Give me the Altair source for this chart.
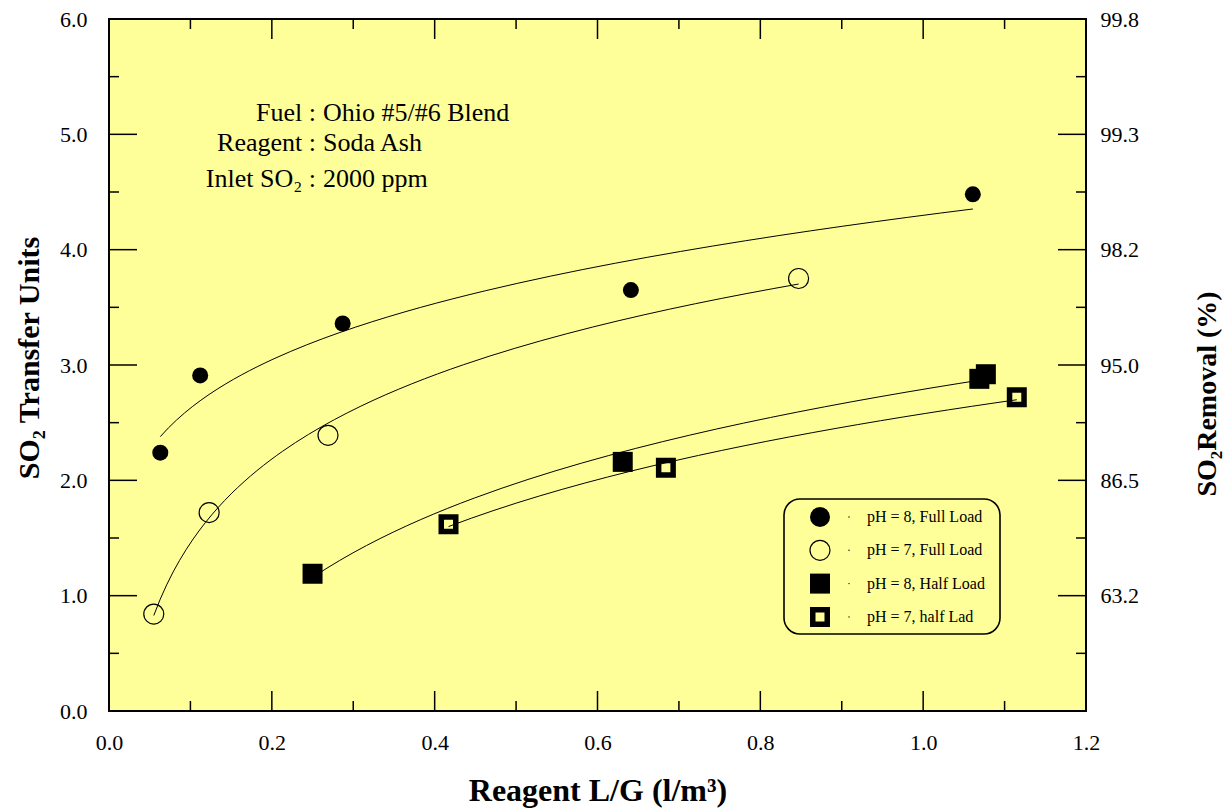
import altair as alt
import pandas as pd

# ---------------- data ----------------
series_names = ["pH = 8, Full Load", "pH = 7, Full Load", "pH = 8, Half Load", "pH = 7, half Lad"]

ph8_full_x = [0.063, 0.112, 0.287, 0.641, 1.061]
ph8_full_y = [2.24, 2.91, 3.36, 3.65, 4.48]
ph7_full_x = [0.055, 0.123, 0.269, 0.847]
ph7_full_y = [0.84, 1.72, 2.39, 3.75]
ph8_half_x = [0.250, 0.631, 1.069, 1.077]
ph8_half_y = [1.19, 2.16, 2.88, 2.92]
ph7_half_x = [0.417, 0.684, 1.115]
ph7_half_y = [1.62, 2.11, 2.72]

fit_methods = ["pow", "log", "log", "log"]

y_major = [0, 1, 2, 3, 4, 5, 6]
y_minor = [0.5, 1.5, 2.5, 3.5, 4.5, 5.5]
x_major = [0.0, 0.2, 0.4, 0.6, 0.8, 1.0, 1.2]
x_minor = [0.1, 0.3, 0.5, 0.7, 0.9, 1.1]
right_values = [1, 2, 3, 4, 5, 6]
right_labels = ["63.2", "86.5", "95.0", "98.2", "99.3", "99.8"]

note_keys = ["Fuel :", "Reagent :", "Inlet SO\u2082 :"]
note_vals = ["Ohio #5/#6 Blend", "Soda Ash", "2000 ppm"]

x_title = "Reagent L/G (l/m\u00b3)"
y_title = "SO\u2082 Transfer Units"
y2_title = "SO\u2082Removal (%)"

# ---------------- layout / style ----------------
W, H = 977, 692
FONT = "Liberation Serif"
BG = "#FFFF99"

styles = {
    "pH = 8, Full Load": dict(shape="circle", filled=True, size=256, strokeWidth=0),
    "pH = 7, Full Load": dict(shape="circle", filled=False, size=400, strokeWidth=1.2),
    "pH = 8, Half Load": dict(shape="square", filled=True, size=400, strokeWidth=0),
    "pH = 7, half Lad": dict(shape="square", filled=False, size=210, strokeWidth=5.5),
}
legend_styles = {
    "pH = 8, Full Load": dict(shape="circle", filled=True, size=400, strokeWidth=0),
    "pH = 7, Full Load": dict(shape="circle", filled=False, size=400, strokeWidth=1.2),
    "pH = 8, Half Load": dict(shape="square", filled=True, size=400, strokeWidth=0),
    "pH = 7, half Lad": dict(shape="square", filled=False, size=210, strokeWidth=5.5),
}

xs = alt.Scale(domain=[0, 1.2], nice=False, zero=True)
ys = alt.Scale(domain=[0, 6], nice=False, zero=True)

xs_list = [ph8_full_x, ph7_full_x, ph8_half_x, ph7_half_x]
ys_list = [ph8_full_y, ph7_full_y, ph8_half_y, ph7_half_y]
rows = []
for name, xv, yv in zip(series_names, xs_list, ys_list):
    for a, b in zip(xv, yv):
        rows.append({"x": a, "y": b, "series": name})
df = pd.DataFrame(rows)

layers = []

# fitted curves (computed by Vega-Lite regression)
for name, m in zip(series_names, fit_methods):
    layers.append(
        alt.Chart(df)
        .transform_filter(alt.datum.series == name)
        .transform_regression("x", "y", method=m)
        .mark_line(color="black", strokeWidth=1)
        .encode(x=alt.X("x:Q", scale=xs, axis=None), y=alt.Y("y:Q", scale=ys, axis=None))
    )

# points
for name in series_names:
    st = styles[name]
    layers.append(
        alt.Chart(df)
        .transform_filter(alt.datum.series == name)
        .mark_point(shape=st["shape"], filled=st["filled"], size=st["size"],
                    strokeWidth=st["strokeWidth"], color="black", opacity=1)
        .encode(x=alt.X("x:Q", scale=xs, axis=None), y=alt.Y("y:Q", scale=ys, axis=None))
    )

axis_common = dict(title=None, ticks=False, tickSize=0, domain=False, grid=False,
                   labelFont=FONT, labelFontSize=22, labelColor="black", labelFlush=False,
                   labelOverlap=False)

# left major ticks (carry the left axis labels)
layers.append(
    alt.Chart(pd.DataFrame({"v": y_major})).mark_rule(color="black", strokeWidth=1.5)
    .encode(
        y=alt.Y("v:Q", scale=ys, axis=alt.Axis(orient="left", values=y_major, format=".1f",
                                               labelPadding=22, **axis_common)),
        x=alt.value(0), x2=alt.value(28))
)
layers.append(
    alt.Chart(pd.DataFrame({"v": y_minor})).mark_rule(color="black", strokeWidth=1.5)
    .encode(y=alt.Y("v:Q", scale=ys, axis=None), x=alt.value(0), x2=alt.value(10))
)
# right ticks (carry the right axis labels)
label_expr = "[''," + ",".join("'" + s + "'" for s in right_labels) + "][datum.value]"
layers.append(
    alt.Chart(pd.DataFrame({"v": y_major})).mark_rule(color="black", strokeWidth=1.5)
    .encode(
        y=alt.Y("v:Q", scale=ys, axis=alt.Axis(orient="right", values=right_values,
                                               labelExpr=label_expr, labelPadding=14, **axis_common)),
        x=alt.value(W - 28), x2=alt.value(W))
)
layers.append(
    alt.Chart(pd.DataFrame({"v": y_minor})).mark_rule(color="black", strokeWidth=1.5)
    .encode(y=alt.Y("v:Q", scale=ys, axis=None), x=alt.value(W - 10), x2=alt.value(W))
)
# bottom ticks (carry x axis labels)
layers.append(
    alt.Chart(pd.DataFrame({"v": x_major})).mark_rule(color="black", strokeWidth=1.5)
    .encode(
        x=alt.X("v:Q", scale=xs, axis=alt.Axis(orient="bottom", values=x_major, format=".1f",
                                               labelPadding=21, **axis_common)),
        y=alt.value(H - 20), y2=alt.value(H))
)
layers.append(
    alt.Chart(pd.DataFrame({"v": x_minor})).mark_rule(color="black", strokeWidth=1.5)
    .encode(x=alt.X("v:Q", scale=xs, axis=None), y=alt.value(H - 10), y2=alt.value(H))
)
# top ticks
layers.append(
    alt.Chart(pd.DataFrame({"v": x_major})).mark_rule(color="black", strokeWidth=1.5)
    .encode(x=alt.X("v:Q", scale=xs, axis=None), y=alt.value(0), y2=alt.value(20))
)
layers.append(
    alt.Chart(pd.DataFrame({"v": x_minor})).mark_rule(color="black", strokeWidth=1.5)
    .encode(x=alt.X("v:Q", scale=xs, axis=None), y=alt.value(0), y2=alt.value(10))
)

# annotation block
note_df = pd.DataFrame({
    "k": note_keys, "v": note_vals,
    "py": [102, 132, 168],
})
layers.append(
    alt.Chart(note_df).mark_text(font=FONT, fontSize=26, align="right", baseline="alphabetic", color="black")
    .encode(text="k:N", x=alt.value(207), y=alt.Y("py:Q", scale=None))
)
layers.append(
    alt.Chart(note_df).mark_text(font=FONT, fontSize=26, align="left", baseline="alphabetic", color="black")
    .encode(text="v:N", x=alt.value(214), y=alt.Y("py:Q", scale=None))
)

# legend box
layers.append(
    alt.Chart(pd.DataFrame({"a": [0]})).mark_rect(fillOpacity=0, stroke="black", strokeWidth=1.6, cornerRadius=16)
    .encode(x=alt.value(675), x2=alt.value(891), y=alt.value(480), y2=alt.value(615))
)
leg_top, leg_gap = 498, 33.3
for i, name in enumerate(series_names):
    st = legend_styles[name]
    ldf = pd.DataFrame({"label": [name], "py": [leg_top + i * leg_gap]})
    layers.append(
        alt.Chart(ldf).mark_point(shape=st["shape"], filled=st["filled"], size=st["size"],
                                  strokeWidth=st["strokeWidth"], color="black", opacity=1)
        .encode(x=alt.value(711), y=alt.Y("py:Q", scale=None))
    )
    layers.append(
        alt.Chart(ldf).mark_point(shape="circle", filled=True, size=2, color="black", opacity=1)
        .encode(x=alt.value(740), y=alt.Y("py:Q", scale=None))
    )
    layers.append(
        alt.Chart(ldf).mark_text(font=FONT, fontSize=16, align="left", baseline="middle", color="black")
        .encode(text="label:N", x=alt.value(758), y=alt.Y("py:Q", scale=None))
    )

# axis titles as text
layers.append(
    alt.Chart(pd.DataFrame({"t": [x_title]})).mark_text(font=FONT, fontSize=32, fontWeight="bold",
                                                        align="center", baseline="alphabetic", color="black")
    .encode(text="t:N", x=alt.value(489), y=alt.value(782))
)
layers.append(
    alt.Chart(pd.DataFrame({"t": [y_title]})).mark_text(font=FONT, fontSize=30, fontWeight="bold", angle=270,
                                                        align="center", baseline="alphabetic", color="black")
    .encode(text="t:N", x=alt.value(-70), y=alt.value(339))
)
layers.append(
    alt.Chart(pd.DataFrame({"t": [y2_title]})).mark_text(font=FONT, fontSize=28, fontWeight="bold", angle=270,
                                                         align="center", baseline="alphabetic", color="black")
    .encode(text="t:N", x=alt.value(1107), y=alt.value(375))
)

chart = (
    alt.layer(*layers)
    .resolve_axis(x="independent", y="independent")
    .properties(width=W, height=H, autosize=alt.AutoSizeParams(type="none"), background="white",
                padding={"left": 109, "top": 19, "right": 1223 - 109 - W, "bottom": 810 - 19 - H})
    .configure_view(fill=BG, stroke="black", strokeWidth=2)
)

chart.save("out.html", embed_options={"renderer": "svg", "actions": False})
